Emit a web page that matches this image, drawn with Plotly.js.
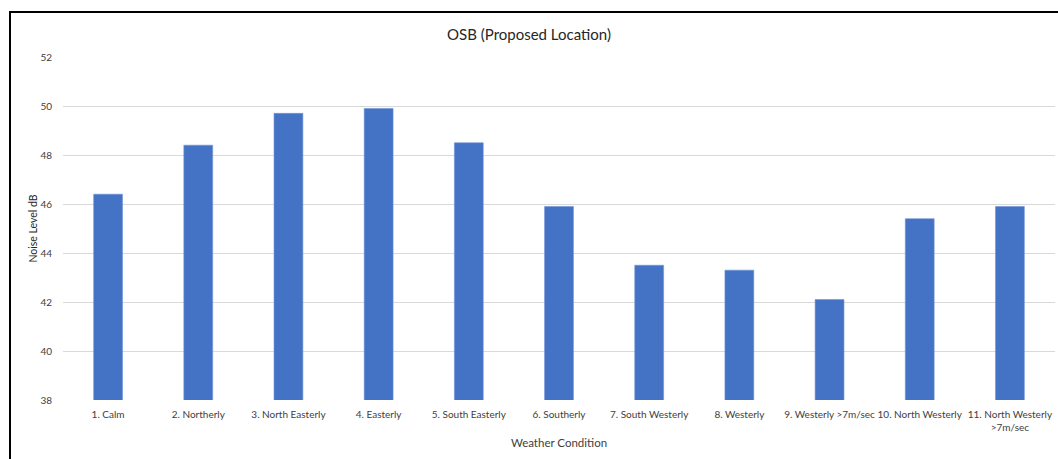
<!DOCTYPE html>
<html>
<head>
<meta charset="utf-8">
<script src="https://cdn.plot.ly/plotly-3.0.1.min.js"></script>
<style>
html,body{margin:0;padding:0;background:#fff;}
#wrap{position:relative;width:1058px;height:459px;overflow:hidden;}
#chart{position:absolute;left:0;top:0;width:1058px;height:459px;}
#frame{position:absolute;left:9px;top:11px;width:1100px;height:500px;border-left:2px solid #000;border-top:2px solid #000;pointer-events:none;}
</style>
</head>
<body>
<div id="wrap"><div id="chart"></div><div id="frame"></div></div>
<script>
const categories = ["1. Calm","2. Northerly","3. North Easterly","4. Easterly","5. South Easterly","6. Southerly","7. South Westerly","8. Westerly","9. Westerly >7m/sec","10. North Westerly","11. North Westerly<br>>7m/sec"];
const noiseLevels = [46.4, 48.4, 49.7, 49.9, 48.5, 45.9, 43.5, 43.3, 42.1, 45.4, 45.9];
const yTicks = [38, 40, 42, 44, 46, 48, 50, 52];

const font = "Lato, 'Open Sans', 'Liberation Sans', sans-serif";
Plotly.newPlot('chart', [{
  type: 'bar',
  x: categories,
  y: noiseLevels,
  marker: {color: '#4472C4', line: {color: '#6f93d6', width: 0.6}},
  hoverinfo: 'x+y'
}], {
  width: 1058, height: 459,
  margin: {l: 63, r: 3, t: 57, b: 59},
  paper_bgcolor: '#fff', plot_bgcolor: '#fff',
  bargap: 0.68,
  title: {text: 'OSB (Proposed Location)', x: 0.5, xanchor: 'center', y: 0.925, yanchor: 'middle', font: {family: font, size: 15, color: '#262626'}},
  xaxis: {
    type: 'category',
    tickfont: {family: font, size: 10, color: '#404040'},
    ticks: 'outside', ticklen: 5, tickcolor: 'rgba(0,0,0,0)',
    showline: false, showgrid: false,
    title: {text: 'Weather Condition', font: {family: font, size: 11.5, color: '#404040'}, standoff: 6},
    automargin: false
  },
  yaxis: {
    range: [38, 52], tickvals: yTicks, ticktext: yTicks.map(String),
    tickfont: {family: font, size: 10, color: '#404040'},
    gridcolor: '#d9d9d9', gridwidth: 1, zeroline: false, showline: false,
    ticks: 'outside', ticklen: 8, tickcolor: 'rgba(0,0,0,0)',
    title: {text: 'Noise Level dB', font: {family: font, size: 10.5, color: '#262626'}, standoff: 0},
    automargin: false
  },
  showlegend: false
}, {displayModeBar: false, staticPlot: true});
</script>
</body>
</html>
